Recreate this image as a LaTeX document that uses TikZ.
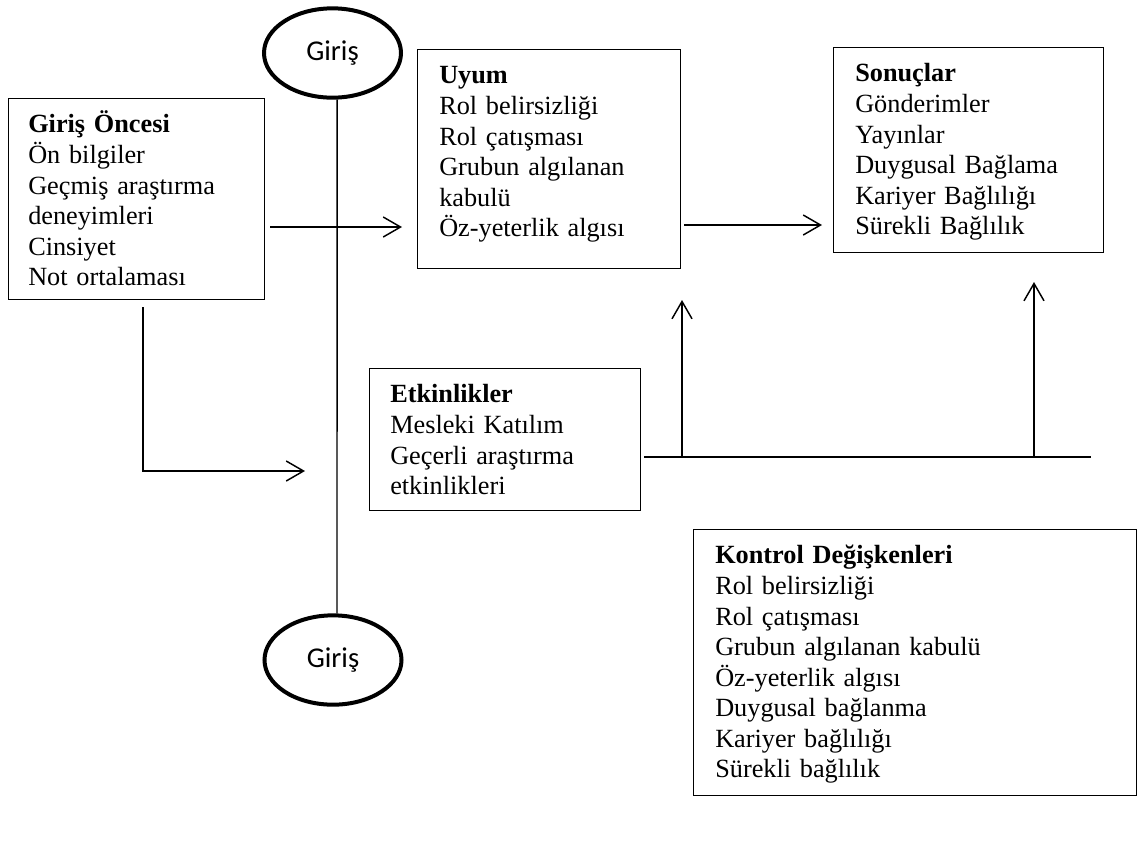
\documentclass[tikz,border=0pt]{standalone}
\usepackage{fontspec}
\setmainfont{Liberation Serif}
\newfontfamily\ovalfont{Carlito}
\usetikzlibrary{arrows.meta,shapes.geometric,calc}
\begin{document}
\begin{tikzpicture}[x=0.75pt,y=-0.75pt,
  frame/.style={draw, line width=1.1pt, rectangle, inner sep=0pt, anchor=north west},
  boxtext/.style={anchor=north west, inner sep=0pt, align=left, text width=330pt,
    font=\fontsize{19.7pt}{22.9pt}\selectfont},
  oval/.style={draw, ellipse, line width=3pt, inner sep=0pt, minimum width=102.75pt,
    minimum height=67pt, font=\ovalfont\fontsize{21.5pt}{24pt}\selectfont},
  conn/.style={line width=1.1pt},
  arr/.style={conn, -{Straight Barb[length=13pt,width=15pt,line width=1.1pt]}}
]
\useasboundingbox (0,0) rectangle (1138,844);
\newcommand{\firstline}{\rule{0pt}{26pt}}

% boxes
\node[frame, minimum width=192pt, minimum height=150.75pt] (pre) at (8,98) {};
\node[boxtext] (pretext) at (28,98) {\firstline\textbf{Giriş Öncesi}\\Ön bilgiler\\Geçmiş araştırma\\deneyimleri\\Cinsiyet\\Not ortalaması};

\node[frame, minimum width=197.25pt, minimum height=164.25pt] (uyum) at (417,49) {};
\node[boxtext] (uyumtext) at (439,49) {\firstline\textbf{Uyum}\\Rol belirsizliği\\Rol çatışması\\Grubun algılanan\\kabulü\\Öz-yeterlik algısı};

\node[frame, minimum width=202.5pt, minimum height=153.75pt] (son) at (833,47) {};
\node[boxtext] (sontext) at (855,47) {\firstline\textbf{Sonuçlar}\\Gönderimler\\Yayınlar\\Duygusal Bağlama\\Kariyer Bağlılığı\\Sürekli Bağlılık};

\node[frame, minimum width=203.25pt, minimum height=106.5pt] (etk) at (369,368) {};
\node[boxtext] (etktext) at (390,368) {\firstline\textbf{Etkinlikler}\\Mesleki Katılım\\Geçerli araştırma\\etkinlikleri};

\node[frame, minimum width=332.25pt, minimum height=199.5pt] (kon) at (693,529) {};
\node[boxtext] (kontext) at (715,529) {\firstline\textbf{Kontrol Değişkenleri}\\Rol belirsizliği\\Rol çatışması\\Grubun algılanan kabulü\\Öz-yeterlik algısı\\Duygusal bağlanma\\Kariyer bağlılığı\\Sürekli bağlılık};

% entry ovals
\node[oval] (gtop) at (332.5,53) {Giriş};
\node[oval] (gbot) at (333,660) {Giriş};

% connector end points
\coordinate (a1s) at ($(pre.north east)+(5,129)$);
\coordinate (a1e) at ($(uyum.north west)+(-15,178)$);
\coordinate (a2s) at ($(uyum.north east)+(3,176)$);
\coordinate (a2e) at ($(son.north west)+(-11,178)$);
\coordinate (ls) at ($(pre.south west)+(135,7)$);
\coordinate (lc) at (143,471);
\coordinate (le) at (305,471);
\coordinate (hs) at ($(etk.north east)+(3,89)$);
\coordinate (he) at (1091,457);
\coordinate (u1s) at (682,457);
\coordinate (u1e) at (682,300);
\coordinate (u2s) at (1034,457);
\coordinate (u2e) at (1034,282);

% connectors
\draw[conn] ([xshift=3.4pt]gtop.south) -- ([xshift=3pt]gbot.north);
\draw[arr] (a1s) -- (a1e);
\draw[arr] (a2s) -- (a2e);
\draw[arr] (ls) -- (lc) -- (le);
\draw[conn] (hs) -- (he);
\draw[arr] (u1s) -- (u1e);
\draw[arr] (u2s) -- (u2e);
\end{tikzpicture}
\end{document}
